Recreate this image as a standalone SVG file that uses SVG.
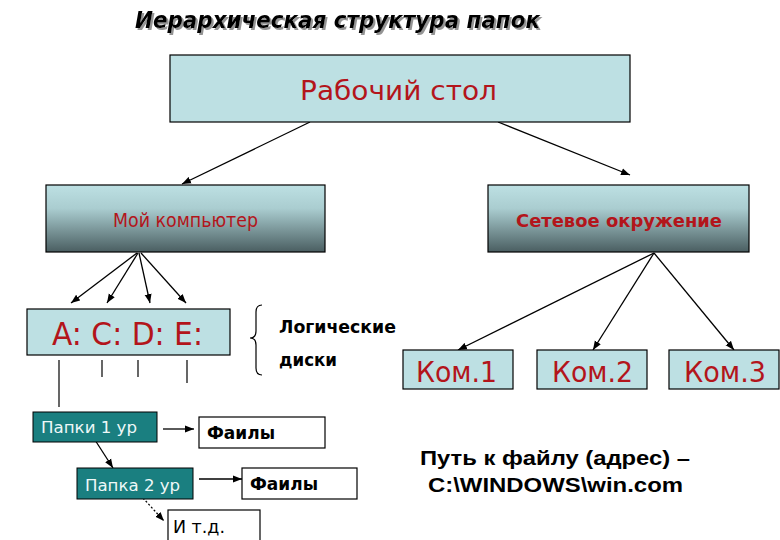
<svg xmlns="http://www.w3.org/2000/svg" width="780" height="540" viewBox="0 0 780 540">
<defs>
<linearGradient id="gr" x1="0" y1="0" x2="0" y2="1">
<stop offset="0" stop-color="#bde0e3"/>
<stop offset="0.35" stop-color="#aacdd0"/>
<stop offset="1" stop-color="#4a5e61"/>
</linearGradient>
<filter id="sh" x="-5%" y="-30%" width="110%" height="160%">
<feDropShadow dx="2" dy="2" stdDeviation="0.6" flood-color="#888" flood-opacity="0.9"/>
</filter>
<marker id="ah" markerUnits="userSpaceOnUse" markerWidth="10" markerHeight="8" refX="9" refY="4" orient="auto">
<path d="M0,0.5 L9,4 L0,7.5 z" fill="#000"/>
</marker>
</defs>
<style>
.box{fill:#bde0e3;stroke:#000;stroke-width:1.2}
.grad{fill:url(#gr);stroke:#000;stroke-width:1.2}
.teal{fill:#1a7f80;stroke:#000;stroke-width:1}
.white{fill:#fff;stroke:#000;stroke-width:1.2}
.red{fill:#b3151b;font-family:"DejaVu Sans Condensed","DejaVu Sans",sans-serif}
.redb{fill:#b3151b;font-family:"DejaVu Sans",sans-serif;font-weight:bold}
.blk{fill:#000;font-family:"DejaVu Sans",sans-serif;font-weight:bold}
.wt{fill:#eef8f8;font-family:"DejaVu Sans Condensed","DejaVu Sans",sans-serif}
.ar{stroke:#000;stroke-width:1.3;fill:none;marker-end:url(#ah)}
.ln{stroke:#000;stroke-width:1.2;fill:none}
</style>
<g id="title">
<text x="135" y="28" font-family="DejaVu Sans,sans-serif" font-weight="bold" font-style="italic" font-size="23" fill="#000" filter="url(#sh)" textLength="405" lengthAdjust="spacingAndGlyphs">Иерархическая структура папок</text>
</g>
<g id="connectors">
<line class="ar" x1="310" y1="122" x2="182" y2="184"/>
<line class="ar" x1="498" y1="122" x2="630" y2="175"/>
<line class="ar" x1="137" y1="253" x2="71" y2="303"/>
<line class="ar" x1="138" y1="253" x2="107" y2="303"/>
<line class="ar" x1="139" y1="253" x2="150" y2="303"/>
<line class="ar" x1="141" y1="253" x2="186" y2="303"/>
<line class="ar" x1="654" y1="253" x2="458" y2="350"/>
<line class="ar" x1="654" y1="253" x2="593" y2="350"/>
<line class="ar" x1="654" y1="253" x2="734" y2="350"/>
<line class="ln" x1="59" y1="360" x2="59" y2="407"/>
<line class="ln" x1="102" y1="360" x2="102" y2="377"/>
<line class="ln" x1="138" y1="360" x2="138" y2="377"/>
<line class="ln" x1="187" y1="360" x2="187" y2="383"/>
<line class="ar" x1="163" y1="429" x2="194" y2="429"/>
<line class="ar" x1="95" y1="440" x2="113" y2="468"/>
<line class="ar" x1="199" y1="479" x2="242" y2="479"/>
<line class="ar" x1="143" y1="498" x2="164" y2="521" stroke-dasharray="2,2"/>
<path class="ln" d="M262,305 Q256,305 256,312 L256,331 Q256,338 250,338 Q256,338 256,345 L256,368 Q256,375 262,375" stroke="#333" stroke-width="1"/>
</g>
<g id="desktop">
<rect class="box" x="170" y="55" width="460" height="67"/>
<text class="red" x="300" y="100" font-size="27" textLength="197" lengthAdjust="spacingAndGlyphs">Рабочий стол</text>
</g>
<g id="mycomputer">
<rect class="grad" x="46" y="185" width="279" height="67"/>
<text class="red" x="113" y="227" font-size="19" textLength="145" lengthAdjust="spacingAndGlyphs">Мой компьютер</text>
</g>
<g id="network">
<rect class="grad" x="488" y="185" width="261" height="67"/>
<text class="redb" x="516" y="227" font-size="18" textLength="206" lengthAdjust="spacingAndGlyphs">Сетевое окружение</text>
</g>
<g id="drives">
<rect class="box" x="27" y="309" width="203" height="46"/>
<text class="red" x="52" y="345" font-size="32" textLength="151" lengthAdjust="spacingAndGlyphs">A: C: D: E:</text>
</g>
<g id="logical">
<text class="blk" x="279" y="333" font-size="17" textLength="117" lengthAdjust="spacingAndGlyphs">Логические</text>
<text class="blk" x="279" y="366" font-size="17" textLength="58" lengthAdjust="spacingAndGlyphs">диски</text>
</g>
<g id="kom1">
<rect class="box" x="403" y="350" width="110" height="39"/>
<text class="red" x="416" y="382" font-size="28" textLength="81" lengthAdjust="spacingAndGlyphs">Ком.1</text>
</g>
<g id="kom2">
<rect class="box" x="537" y="350" width="110" height="39"/>
<text class="red" x="552" y="382" font-size="28" textLength="81" lengthAdjust="spacingAndGlyphs">Ком.2</text>
</g>
<g id="kom3">
<rect class="box" x="669" y="350" width="110" height="39"/>
<text class="red" x="684" y="382" font-size="28" textLength="82" lengthAdjust="spacingAndGlyphs">Ком.3</text>
</g>
<g id="folder1">
<rect class="teal" x="33" y="412" width="124" height="30"/>
<text class="wt" x="41" y="433" font-size="16" textLength="96" lengthAdjust="spacingAndGlyphs">Папки 1 ур</text>
</g>
<g id="files1">
<rect class="white" x="199" y="417" width="126" height="31"/>
<text class="blk" x="207" y="439" font-size="17" textLength="68" lengthAdjust="spacingAndGlyphs">Фаилы</text>
</g>
<g id="folder2">
<rect class="teal" x="77" y="468" width="116" height="31"/>
<text class="wt" x="85" y="491" font-size="16" textLength="95" lengthAdjust="spacingAndGlyphs">Папка 2 ур</text>
</g>
<g id="files2">
<rect class="white" x="242" y="468" width="115" height="31"/>
<text class="blk" x="250" y="490" font-size="17" textLength="68" lengthAdjust="spacingAndGlyphs">Фаилы</text>
</g>
<g id="etc">
<rect class="white" x="168" y="510" width="92" height="40"/>
<text x="173" y="533" font-family="DejaVu Sans Condensed,DejaVu Sans,sans-serif" font-size="17" fill="#000" textLength="52" lengthAdjust="spacingAndGlyphs">И т.д.</text>
</g>
<g id="path">
<text x="420" y="465" font-family="Liberation Sans,Arial,sans-serif" font-weight="bold" font-size="21" fill="#000" textLength="270" lengthAdjust="spacingAndGlyphs">Путь к файлу (адрес) –</text>
<text x="428" y="492" font-family="Liberation Sans,Arial,sans-serif" font-weight="bold" font-size="21" fill="#000" textLength="255" lengthAdjust="spacingAndGlyphs">C:\WINDOWS\win.com</text>
</g>
</svg>
